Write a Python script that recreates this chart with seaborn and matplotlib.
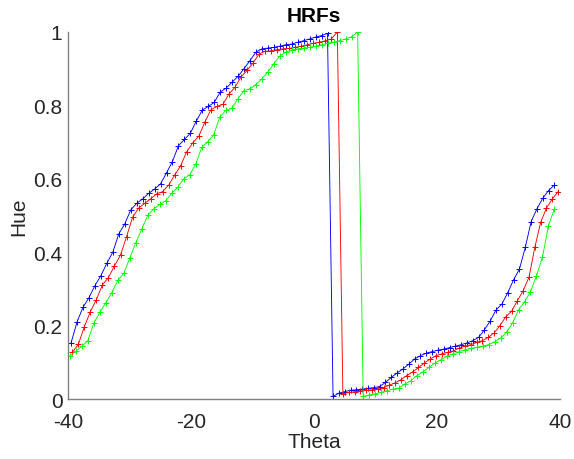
import numpy as np
import pandas as pd
import matplotlib
matplotlib.use("Agg")
import matplotlib.pyplot as plt
import seaborn as sns

# hue values, split at the wrap-around (1 -> 0)
blue_high = [0.153, 0.21, 0.25, 0.276, 0.309, 0.336, 0.37, 0.40, 0.45, 0.477,
             0.515, 0.533, 0.545, 0.56, 0.572, 0.586, 0.616, 0.647, 0.69, 0.707,
             0.724, 0.757, 0.787, 0.797, 0.808, 0.836, 0.847, 0.863, 0.879, 0.9,
             0.922, 0.945, 0.954, 0.956, 0.958, 0.961, 0.965, 0.967, 0.972, 0.976,
             0.981, 0.986, 0.99, 0.996]
blue_low = [0.007, 0.016, 0.02, 0.024, 0.025, 0.027, 0.029, 0.031, 0.034, 0.045,
            0.059, 0.071, 0.082, 0.095, 0.109, 0.118, 0.125, 0.129, 0.133, 0.136,
            0.14, 0.144, 0.148, 0.153, 0.159, 0.168, 0.189, 0.213, 0.243, 0.259,
            0.29, 0.325, 0.354, 0.413, 0.483, 0.518, 0.547, 0.568, 0.583]

red_high = [0.127, 0.149, 0.197, 0.238, 0.271, 0.311, 0.331, 0.363, 0.392, 0.442,
            0.495, 0.52, 0.533, 0.545, 0.559, 0.565, 0.583, 0.61, 0.636, 0.674,
            0.698, 0.716, 0.754, 0.788, 0.797, 0.803, 0.831, 0.849, 0.877, 0.895,
            0.915, 0.94, 0.947, 0.949, 0.952, 0.954, 0.955, 0.958, 0.961, 0.965,
            0.969, 0.972, 0.976, 0.981, 1.0]
red_low = [0.014, 0.018, 0.02, 0.022, 0.024, 0.025, 0.027, 0.031, 0.038, 0.044,
           0.053, 0.064, 0.074, 0.086, 0.098, 0.109, 0.118, 0.123, 0.127, 0.131,
           0.139, 0.144, 0.148, 0.154, 0.159, 0.168, 0.18, 0.2, 0.224, 0.239,
           0.268, 0.295, 0.332, 0.413, 0.481, 0.52, 0.545, 0.565]

green_high = [0.118, 0.13, 0.144, 0.159, 0.207, 0.236, 0.262, 0.29, 0.323, 0.343,
              0.384, 0.426, 0.463, 0.501, 0.518, 0.53, 0.54, 0.561, 0.577, 0.6,
              0.611, 0.64, 0.686, 0.701, 0.72, 0.768, 0.786, 0.792, 0.817, 0.84,
              0.845, 0.856, 0.872, 0.89, 0.913, 0.934, 0.945, 0.951, 0.954, 0.956,
              0.958, 0.961, 0.965, 0.969, 0.972, 0.976, 0.981, 0.987, 1.0]
green_low = [0.007, 0.011, 0.014, 0.018, 0.023, 0.027, 0.03, 0.041, 0.05, 0.064,
             0.074, 0.086, 0.098, 0.107, 0.116, 0.123, 0.129, 0.134, 0.138, 0.141,
             0.144, 0.148, 0.156, 0.166, 0.182, 0.207, 0.243, 0.265, 0.292, 0.336,
             0.386, 0.472, 0.518]

# theta range covered by each segment (first, last sample)
blue_span = [(-39.5, 2.2), (3.1, 39.1)]
red_span = [(-39.3, 3.8), (4.7, 39.7)]
green_span = [(-39.7, 7.1), (8.0, 39.1)]

x_ticks = [-40, -20, 0, 20, 40]
y_ticks = [0, 0.2, 0.4, 0.6, 0.8, 1]
y_tick_labels = ["0", "0.2", "0.4", "0.6", "0.8", "1"]


def build(high, low, span):
    theta = np.concatenate([np.linspace(*span[0], len(high)),
                            np.linspace(*span[1], len(low))])
    return pd.DataFrame({"theta": theta, "hue": high + low})


series = [
    (build(blue_high, blue_low, blue_span), (0, 0, 1)),
    (build(red_high, red_low, red_span), (1, 0, 0)),
    (build(green_high, green_low, green_span), (0, 1, 0)),
]

sns.set_style("white")
plt.rcParams["font.family"] = ["Liberation Sans", "DejaVu Sans"]

fig = plt.figure(figsize=(5.74, 4.6), dpi=100)
ax = fig.add_axes([0.1185, 0.1304, 0.857, 0.798])

for data, col in series:
    sns.lineplot(data=data, x="theta", y="hue", color=col,
                 estimator=None, sort=False, marker="+", markersize=5,
                 markeredgewidth=0.7, markeredgecolor=col, linewidth=0.65,
                 ax=ax)

ax.set_xlim(-40, 40)
ax.set_ylim(0, 1)
ax.set_xticks(x_ticks)
ax.set_xticklabels([str(t) for t in x_ticks])
ax.set_yticks(y_ticks)
ax.set_yticklabels(y_tick_labels)

sns.despine(ax=ax)
for side in ["left", "bottom"]:
    ax.spines[side].set_color("#808080")
    ax.spines[side].set_linewidth(1.0)

ax.tick_params(axis="both", direction="in", length=4, width=0.8,
               color="#808080", labelcolor="#262626", labelsize=15)
ax.tick_params(axis="x", pad=9)
ax.tick_params(axis="y", pad=4)

ax.set_xlabel("Theta", fontsize=15, color="#262626", labelpad=1)
ax.set_ylabel("Hue", fontsize=15, color="#262626", labelpad=4)
ax.set_title("HRFs", fontsize=15, fontweight="bold", color="black", pad=8)

fig.savefig("out.png", dpi=100)
